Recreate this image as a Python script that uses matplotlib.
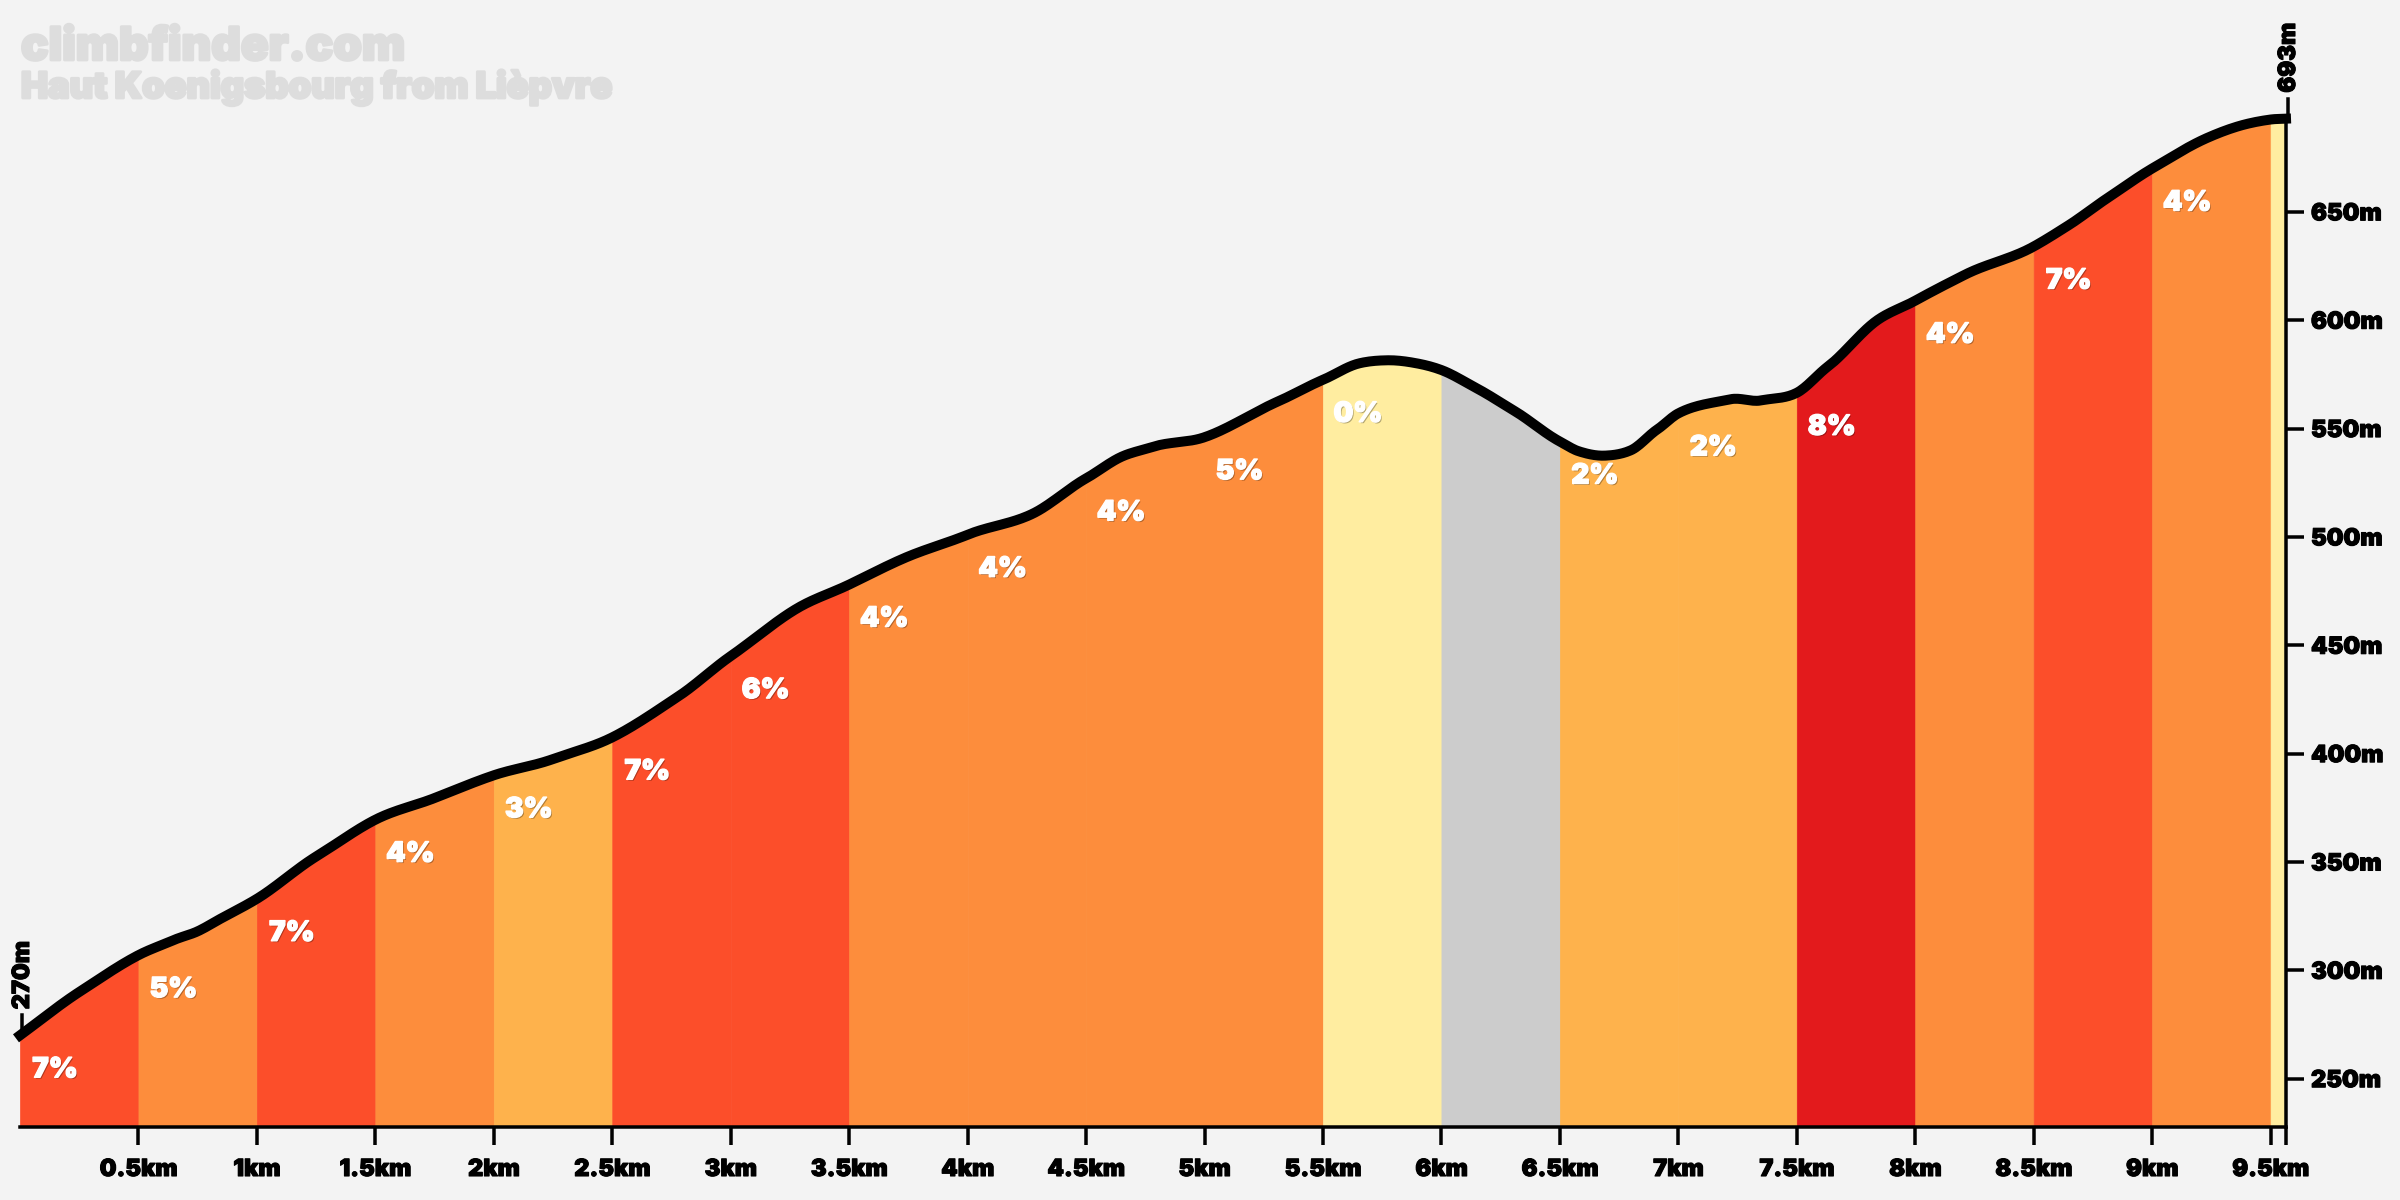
import numpy as np
import matplotlib
matplotlib.use("Agg")
import matplotlib.pyplot as plt
import matplotlib.patheffects as pe
from matplotlib.transforms import offset_copy

# profile
distance_km = [
    0, 0.25, 0.5, 0.65, 0.75, 0.85, 1.0, 1.25, 1.5, 1.75,
    2.0, 2.25, 2.5, 2.78, 3.0, 3.28, 3.5, 3.75, 4.0, 4.28,
    4.5, 4.65, 4.78, 5.0, 5.31, 5.5, 5.65, 5.77, 5.9, 6.0, 6.15, 6.31, 6.5,
    6.58, 6.69, 6.8, 6.91, 7.0, 7.22, 7.35, 7.5, 7.63, 7.84, 8.0, 8.21, 8.5, 8.65, 8.8,
    9.0, 9.23, 9.38, 9.5, 9.565,
]
elevation_m = [
    270, 290, 307, 314, 318, 324, 333, 352.5, 369.5, 379.5,
    390, 397.5, 407.5, 426.5, 445, 467, 478, 491, 501, 511,
    527, 537, 541.5, 546, 562.5, 572.5, 580, 581.5, 580, 577, 568.5, 558, 544,
    539.5, 537.5, 540, 549.5, 557, 563.5, 563, 566.5, 578.5, 600, 609, 621, 634, 644, 655.5,
    670, 684, 690, 692.6, 693,
]

segment_start = [0, 0.5, 1, 1.5, 2, 2.5, 3, 3.5, 4, 4.5, 5, 5.5, 6, 6.5, 7, 7.5, 8, 8.5, 9, 9.5]
segment_end = [0.5, 1, 1.5, 2, 2.5, 3, 3.5, 4, 4.5, 5, 5.5, 6, 6.5, 7, 7.5, 8, 8.5, 9, 9.5, 9.565]
segment_grade = ["7%", "5%", "7%", "4%", "3%", "7%", "6%", "4%", "4%", "4%", "5%", "0%", "",
                 "2%", "2%", "8%", "4%", "7%", "4%", ""]
segment_color = ["#fc4e2a", "#fd8d3c", "#fc4e2a", "#fd8d3c", "#feb24c", "#fc4e2a", "#fc4e2a",
                 "#fd8d3c", "#fd8d3c", "#fd8d3c", "#fd8d3c", "#ffeda0", "#cccccc", "#feb24c",
                 "#feb24c", "#e31a1c", "#fd8d3c", "#fc4e2a", "#fd8d3c", "#ffeda0"]

x_ticks = [0.5, 1, 1.5, 2, 2.5, 3, 3.5, 4, 4.5, 5, 5.5, 6, 6.5, 7, 7.5, 8, 8.5, 9, 9.5, 9.565]
x_tick_labels = ["0.5km", "1km", "1.5km", "2km", "2.5km", "3km", "3.5km", "4km", "4.5km", "5km",
                 "5.5km", "6km", "6.5km", "7km", "7.5km", "8km", "8.5km", "9km", "9.5km", ""]
y_ticks = [250, 300, 350, 400, 450, 500, 550, 600, 650]
y_tick_labels = ["250m", "300m", "350m", "400m", "450m", "500m", "550m", "600m", "650m"]

title = "climbfinder.com"
subtitle = "Haut Koenigsbourg from Lièpvre"

background = "#f3f3f3"
title_color = "#dddddd"
px = 0.72  # points per pixel at dpi 100


def smooth(x_new, x, y):
    # cubic hermite through the read points, the original line is a spline
    x = np.asarray(x, float)
    y = np.asarray(y, float)
    slope = np.gradient(y, x)
    slope[1:-1] = 0.25 * slope[:-2] + 0.5 * slope[1:-1] + 0.25 * slope[2:]
    i = np.clip(np.searchsorted(x, x_new, side="right") - 1, 0, len(x) - 2)
    h = x[i + 1] - x[i]
    t = (x_new - x[i]) / h
    return (
        (2 * t**3 - 3 * t**2 + 1) * y[i]
        + (t**3 - 2 * t**2 + t) * h * slope[i]
        + (-2 * t**3 + 3 * t**2) * y[i + 1]
        + (t**3 - t**2) * h * slope[i + 1]
    )


plt.rcParams["font.family"] = ["Inter", "DejaVu Sans"]
plt.rcParams["font.weight"] = "black"

fig = plt.figure(figsize=(24, 12), dpi=100, facecolor=background)
ax = fig.add_axes([20 / 2400, (1200 - 1127) / 1200, (2286 - 20) / 2400, (1127 - 118) / 1200])
ax.set_facecolor(background)
ax.set_xlim(0, 9.565)
ax.set_ylim(227.7, 693.3)

# one filled block per segment
for start, end, grade, color in zip(segment_start, segment_end, segment_grade, segment_color):
    xs = np.linspace(start, end, 60)
    ax.fill_between(xs, 227.7, smooth(xs, distance_km, elevation_m), facecolor=color,
                    edgecolor=color, lw=0.5, zorder=1)
    if grade:
        y_start = elevation_m[distance_km.index(start)]
        ax.annotate(
            grade, (start, y_start), xytext=(35 * px, -35 * px), textcoords="offset points",
            ha="center", va="center", color="white", fontsize=20, zorder=3,
            path_effects=[pe.withSimplePatchShadow(offset=(1, -1), shadow_rgbFace="black", alpha=0.3),
                          pe.withStroke(linewidth=1, foreground="white")],
        )

xs = np.linspace(0, 9.565, 1200)
ax.plot(xs, smooth(xs, distance_km, elevation_m), color="black", lw=10 * px,
        solid_capstyle="projecting", solid_joinstyle="round", clip_on=False, zorder=4)

heavy = [pe.withStroke(linewidth=0.8, foreground="black")]

# ticks above the two ends of the profile
m_per_px = (693.3 - 227.7) / (1127 - 118)
shifted = offset_copy(ax.transData, fig=fig, x=2 * px, y=0, units="points")
for km, elev, label in [(0, elevation_m[0], "270m"), (9.565, elevation_m[-1], "693m")]:
    ax.plot([km, km], [elev, elev + 20 * m_per_px], color="black", lw=3.5 * px,
            transform=shifted, clip_on=False, zorder=4)
    ax.annotate(label, (km, elev), xytext=(3 * px, 26 * px), textcoords="offset points", rotation=90,
                ha="center", va="bottom", color="black", fontsize=17, path_effects=heavy)

for side in ["left", "top"]:
    ax.spines[side].set_visible(False)
for side in ["bottom", "right"]:
    ax.spines[side].set_linewidth(3.5 * px)
    ax.spines[side].set_zorder(2)

ax.set_xticks(x_ticks, x_tick_labels)
ax.yaxis.tick_right()
ax.set_yticks(y_ticks, y_tick_labels)
ax.tick_params(axis="x", length=18 * px, width=3.5 * px, pad=14 * px, labelsize=17)
ax.tick_params(axis="y", length=18 * px, width=3.5 * px, pad=7 * px, labelsize=17)
for lab in ax.get_xticklabels() + ax.get_yticklabels():
    lab.set_path_effects(heavy)

title_fx = [pe.withStroke(linewidth=2, foreground=title_color)]
fig.text(21 / 2400, 1 - 60 / 1200, title, color=title_color, fontsize=33, va="baseline",
         path_effects=title_fx)
fig.text(21 / 2400, 1 - 98 / 1200, subtitle, color=title_color, fontsize=26, va="baseline",
         path_effects=title_fx)

fig.savefig("out.png", dpi=100, facecolor=background)
